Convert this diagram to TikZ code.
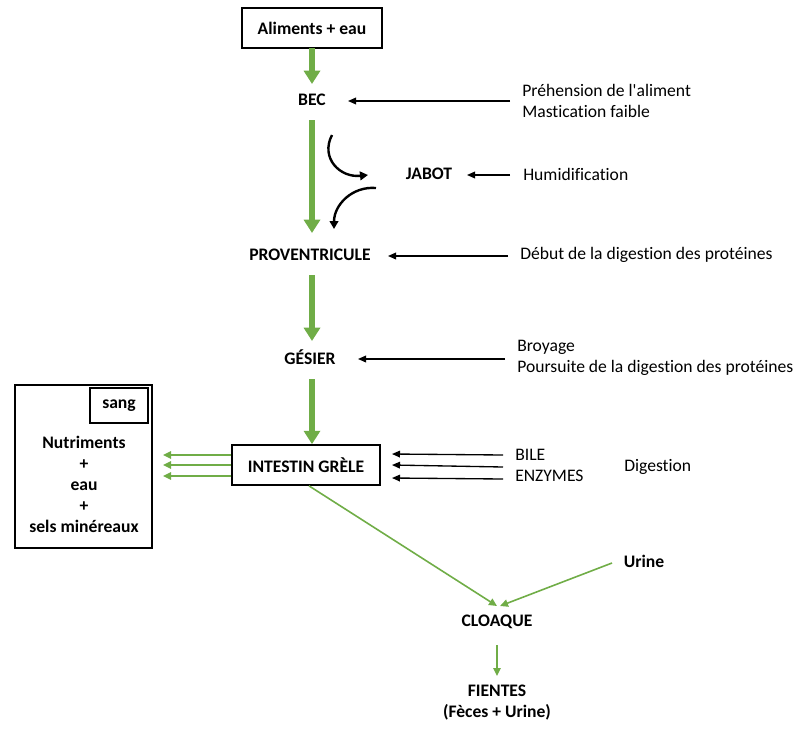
\documentclass[tikz,border=0pt]{standalone}
\usepackage{fontspec}
\setmainfont{Carlito}[Ligatures={NoCommon}]
\usetikzlibrary{arrows.meta}
\definecolor{vert}{RGB}{112,173,71}
\newcommand{\straightq}{\XeTeXglyph\XeTeXcharglyph"27\relax}
\begin{document}
\begin{tikzpicture}[x=0.75pt,y=-0.75pt,
  lbl/.style={inner sep=1pt,font=\fontsize{13.2}{15.75}\selectfont\bfseries},
  txt/.style={inner sep=0pt,anchor=west,align=left,font=\fontsize{13.2}{15.75}\selectfont},
  boxed/.style={draw,line width=1.3pt,inner sep=0pt,font=\fontsize{13.2}{15.75}\selectfont\bfseries},
  big/.style={draw=vert,line width=3.8pt,-{Triangle[width=12pt,length=10pt]}},
  thin/.style={draw=vert,line width=1.2pt,-{Triangle[width=5.5pt,length=6pt]}},
  blk/.style={draw=black,line width=1pt,-{Triangle[width=5pt,length=6pt]}},
  curv/.style={draw=black,line width=1.8pt,-{Triangle[width=6.5pt,length=6pt]}}]
\useasboundingbox (0,0) rectangle (810,736);
% main column
\node[boxed,minimum width=140*0.75pt,minimum height=40*0.75pt] (alim) at (312,28) {Aliments + eau};
\node[lbl] (bec) at (312,100) {BEC};
\node[lbl] (jabot) at (429,174) {JABOT};
\node[lbl] (prov) at (310,255) {PROVENTRICULE};
\node[lbl] (ges) at (310,357) {GÉSIER};
\node[boxed,minimum width=148*0.75pt,minimum height=40*0.75pt] (int) at (306,465) {INTESTIN GRÈLE};
\node[lbl] (cloa) at (497,622) {CLOAQUE};
\node[lbl,align=center] (fien) at (497,703) {FIENTES\\(Fèces + Urine)};
\node[lbl] (urine) at (644,561) {Urine};
% side texts
\node[txt] (t1) at (522,101) {Préhension de l\straightq aliment\\Mastication faible};
\node[txt] (t2) at (523,174) {Humidification};
\node[txt] (t3) at (520,255) {Début de la digestion des protéines};
\node[txt] (t4) at (517,358) {Broyage\\Poursuite de la digestion des protéines};
\node[txt] (t5) at (515,465) {BILE\\ENZYMES};
\node[txt] (t6) at (624,467) {Digestion};
% blood box
\node[draw,line width=1.3pt,minimum width=137*0.75pt,minimum height=163*0.75pt,inner sep=0pt] (sangbox) at (83.5,466.5) {};
\node[boxed,minimum width=58*0.75pt,minimum height=35*0.75pt] (sang) at (119,405.5) {sang};
\node[lbl,align=center] (nut) at (84,484.5) {Nutriments\\+\\eau\\+\\sels minéreaux};
% coordinates
\coordinate (a1) at (312,48);
\coordinate (a1e) at (312,84);
\coordinate (b1) at (312,120);
\coordinate (b1e) at (312,233);
\coordinate (p1) at (312,275);
\coordinate (p1e) at (312,341);
\coordinate (g1) at (312,379);
\coordinate (sn1) at (163,455);
\coordinate (sn2) at (163,465);
\coordinate (sn3) at (163,476);
\coordinate (cl) at (497,606);
\coordinate (cl2) at (500,606);
\coordinate (us) at (612,563);
\coordinate (c1) at (497,645);
\coordinate (c1e) at (497,676);
% green big arrows
\draw[big] (a1) -- (a1e);
\draw[big] (b1) -- (b1e);
\draw[big] (p1) -- (p1e);
\draw[big] (g1) -- (int.north -| g1);
% green thin arrows
\draw[thin] (int.west |- sn1) -- (sn1);
\draw[thin] (int.west |- sn2) -- (sn2);
\draw[thin] (int.west |- sn3) -- (sn3);
\draw[thin] (int.south) ++(3,0) coordinate (is) (is) -- (cl);
\draw[thin] (us) -- (cl2);
\draw[thin] (c1) -- (c1e);
% black arrows
\coordinate (e1) at (510,101);
\draw[blk] (e1) -- (348,101);
\coordinate (e2) at (510,175);
\draw[blk] (e2) -- (467,175);
\coordinate (e3) at (508,256);
\draw[blk] (e3) -- (388,256);
\coordinate (e4) at (505,359);
\draw[blk] (e4) -- (358,359);
\coordinate (d1) at (503,455);
\coordinate (d2) at (503,467);
\coordinate (d3) at (503,479);
\draw[blk] (d1) -- (392,454);
\draw[blk] (d2) -- (392,465);
\draw[blk] (d3) -- (392,478);
% curved arrows (jabot)
\coordinate (k1) at (332,135);
\coordinate (k1e) at (368,175);
\coordinate (k2) at (376,188);
\coordinate (k2e) at (334,229);
\draw[curv] (k1) .. controls (320,158) and (340,178) .. (k1e);
\draw[curv] (k2) .. controls (352,186) and (334,205) .. (k2e);
\end{tikzpicture}
\end{document}
